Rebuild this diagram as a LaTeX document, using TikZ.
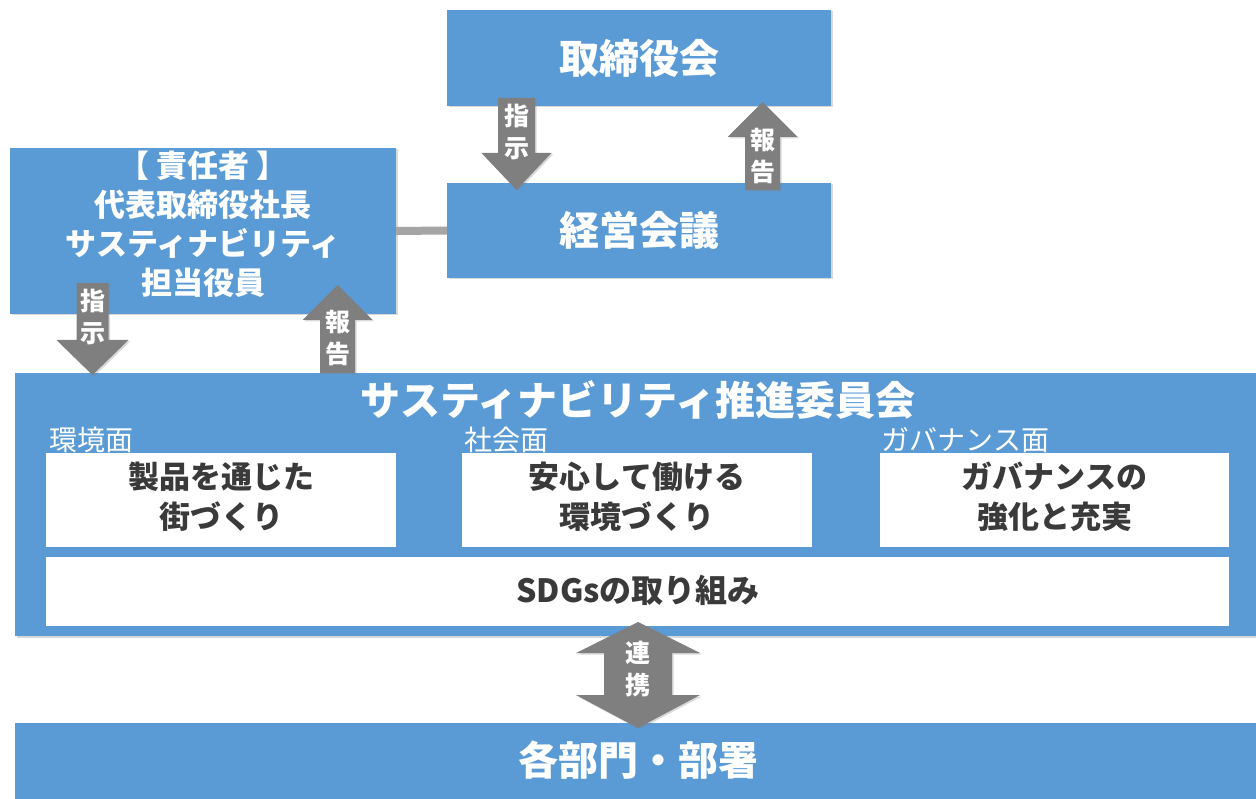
\documentclass[tikz,border=0pt]{standalone}
\usepackage{fontspec}
\setmainfont{Noto Sans CJK JP}
\usetikzlibrary{shadows}
\definecolor{boxblue}{HTML}{5B9BD5}
\definecolor{arrgray}{HTML}{7F7F7F}
\definecolor{txtdark}{HTML}{3A3A3A}
\definecolor{linegray}{HTML}{A5A5A5}
\newcommand\blockarrow[6]{%
  \fill[arrowfill] ({#1-#5},#2) -- ({#1+#5},#2) -- ({#1+#5},#3) -- ({#1+#6},#3) -- (#1,#4) -- ({#1-#6},#3) -- ({#1-#5},#3) -- cycle;}
\begin{document}
\begin{tikzpicture}[x=1pt,y=-1pt,
  softshadow/.style={drop shadow={opacity=0.3, shadow xshift=1.5pt, shadow yshift=-1.5pt}},
  bluebox/.style={fill=boxblue, draw=none, inner sep=0pt, softshadow},
  whitebox/.style={fill=white, draw=none, inner sep=0pt, text=txtdark, align=center,
     font=\fontsize{31}{40}\selectfont\bfseries},
  bigtitle/.style={text=white, font=\fontsize{40}{46}\selectfont\bfseries},
  resptext/.style={text=white, align=center, font=\fontsize{31}{39}\selectfont\bfseries},
  sublabel/.style={text=white, anchor=west, font=\fontsize{28}{30}\selectfont},
  arrowfill/.style={fill=arrgray, softshadow},
  arrlabel/.style={text=white, align=center, font=\fontsize{25}{32}\selectfont\bfseries},
]
\useasboundingbox (0,0) rectangle (1256,799);

% boxes
\node[bluebox, minimum width=384pt, minimum height=96pt] (board) at (639,58) {};
\node[bigtitle] at (board) {取締役会};
\node[bluebox, minimum width=384pt, minimum height=95pt] (mgmt) at (639,230.5) {};
\node[bigtitle] at (mgmt) {経営会議};
\node[bluebox, minimum width=386pt, minimum height=166pt] (resp) at (203,231) {};
\node[resptext] at (203,224) {【 責任者 】\\代表取締役社長\\サスティナビリティ\\担当役員};

\draw[linegray, line width=8pt] (resp.east) -- (mgmt.west);

\node[bluebox, minimum width=1241pt, minimum height=263pt] (comm) at (635.5,504.5) {};
\node[bigtitle] (commtitle) at (638,400) {サスティナビリティ推進委員会};

\node[sublabel] (envl) at (46,440) {環境面};
\node[sublabel] (socl) at (461,440) {社会面};
\node[sublabel] (govl) at (878,440) {ガバナンス面};

\node[whitebox, minimum width=350pt, minimum height=94pt] (env) at (221,500) {};
\node[whitebox] at (221,497) {製品を通じた\\街づくり};
\node[whitebox, minimum width=350pt, minimum height=94pt] (soc) at (637,500) {};
\node[whitebox] at (637,497) {安心して働ける\\環境づくり};
\node[whitebox, minimum width=349pt, minimum height=94pt] (gov) at (1054.5,500) {};
\node[whitebox] at (1054.5,497) {ガバナンスの\\強化と充実};
\node[whitebox, minimum width=1183pt, minimum height=69pt] (sdgs) at (637.5,591.5) {};
\node[whitebox, font=\fontsize{32}{40}\selectfont\bfseries] at (638,590) {SDGsの取り組み};

\node[bluebox, minimum width=1241pt, minimum height=76pt] (dept) at (635.5,761) {};
\node[bigtitle] at (638,760) {各部門・部署};

% block arrows
\blockarrow{516.5}{98}{153}{190}{18.5}{35}
\node[arrlabel] (a1) at (516.5,132) {指\\示};
\blockarrow{762.5}{190}{137}{102}{17.5}{35}
\node[arrlabel] (a2) at (762.5,156) {報\\告};
\blockarrow{92.5}{283}{340}{375}{16}{36}
\node[arrlabel] (a3) at (92.5,317) {指\\示};
\blockarrow{337.5}{373}{320}{285}{17.5}{35}
\node[arrlabel] (a4) at (337.5,338) {報\\告};
\fill[arrowfill] (638,622) -- (700,653) -- (672,653) -- (672,695) -- (700,695) -- (638,728)
   -- (576,695) -- (604,695) -- (604,653) -- (576,653) -- cycle;
\node[arrlabel] (a5) at (638,669) {連\\携};
\end{tikzpicture}
\end{document}
